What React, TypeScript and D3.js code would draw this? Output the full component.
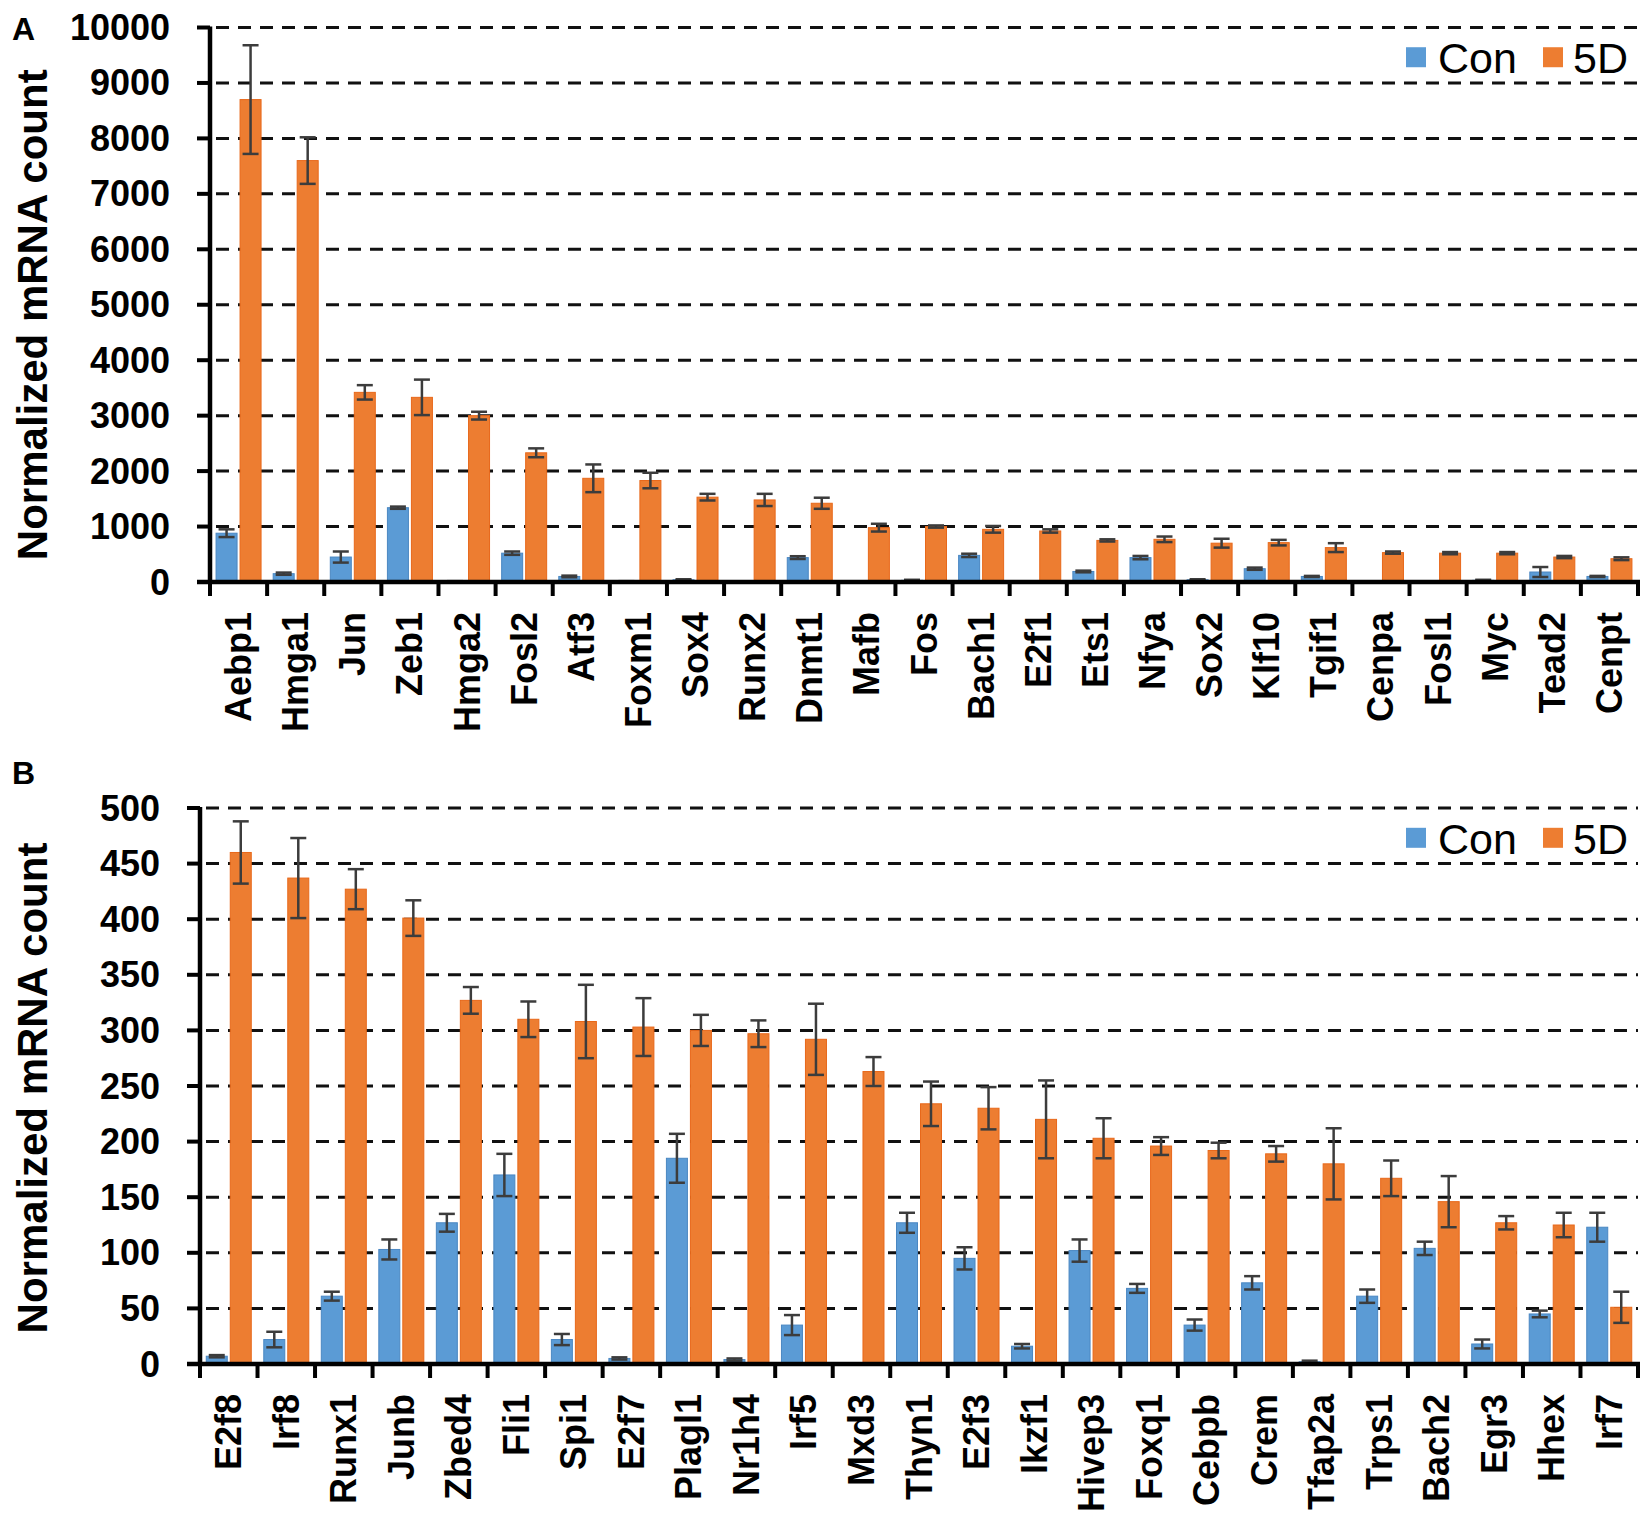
import React, { useEffect } from "react";
import * as d3 from "d3";

const W = 1650;
const H = 1524;

const BLUE = "#5B9BD5";
const BLUE_EDGE = "#4A87C2";
const ORANGE = "#ED7D31";
const ORANGE_EDGE = "#E8681A";
const ERR = "#3c3c3c";
const FONT = "Liberation Sans, Arial, Helvetica, sans-serif";

// Panel A
const genesA = [
  "Aebp1", "Hmga1", "Jun", "Zeb1", "Hmga2", "Fosl2", "Atf3", "Foxm1", "Sox4",
  "Runx2", "Dnmt1", "Mafb", "Fos", "Bach1", "E2f1", "Ets1", "Nfya", "Sox2",
  "Klf10", "Tgif1", "Cenpa", "Fosl1", "Myc", "Tead2", "Cenpt",
];
const conA = [880, 150, 450, 1340, 10, 520, 100, 10, 40, 8, 440, 6, 30, 480, 6, 190, 440, 40, 240, 100, 5, 5, 30, 180, 100];
const conErrA = [70, 20, 100, 20, 5, 30, 15, 5, 10, 4, 25, 3, 10, 30, 3, 15, 30, 10, 20, 10, 3, 3, 10, 90, 10];
const d5A = [8700, 7600, 3420, 3330, 3000, 2330, 1870, 1830, 1530, 1480, 1420, 980, 1000, 950, 920, 750, 770, 700, 710, 620, 530, 520, 520, 450, 420];
const d5ErrA = [980, 420, 130, 320, 70, 80, 250, 140, 60, 110, 100, 70, 20, 60, 30, 20, 50, 80, 50, 80, 20, 20, 20, 20, 25];
const ticksA = [0, 1000, 2000, 3000, 4000, 5000, 6000, 7000, 8000, 9000, 10000];

// Panel B
const genesB = [
  "E2f8", "Irf8", "Runx1", "Junb", "Zbed4", "Fli1", "Spi1", "E2f7", "Plagl1",
  "Nr1h4", "Irf5", "Mxd3", "Thyn1", "E2f3", "Ikzf1", "Hivep3", "Foxq1", "Cebpb",
  "Crem", "Tfap2a", "Trps1", "Bach2", "Egr3", "Hhex", "Irf7",
];
const conB = [7, 22, 61, 103, 127, 170, 22, 5, 185, 4, 35, 0, 127, 95, 16, 102, 68, 35, 73, 2, 61, 104, 18, 45, 123];
const conErrB = [1, 7, 4, 9, 8, 19, 5, 1, 22, 1, 9, 0, 9, 10, 2, 10, 4, 5, 6, 1, 6, 6, 4, 3, 13];
const d5B = [460, 437, 427, 401, 327, 310, 308, 303, 300, 297, 292, 263, 234, 230, 220, 203, 196, 192, 189, 180, 167, 146, 127, 125, 51];
const d5ErrB = [28, 36, 18, 16, 12, 16, 33, 26, 14, 12, 32, 13, 20, 19, 35, 18, 8, 7, 7, 32, 16, 23, 6, 11, 14];
const ticksB = [0, 50, 100, 150, 200, 250, 300, 350, 400, 450, 500];

type PanelProps = {
  letter: string;
  letterY: number;
  genes: string[];
  con: number[];
  conErr: number[];
  d5: number[];
  d5Err: number[];
  ticks: number[];
  x0: number;
  x1: number;
  yTop: number;
  yBottom: number;
  labelY: number;
  titleShift: number;
};

function Panel({ letter, letterY, genes, con, conErr, d5, d5Err, ticks, x0, x1, yTop, yBottom, labelY, titleShift }: PanelProps) {
  const x = d3.scaleBand<string>().domain(genes).range([x0, x1]).paddingInner(0).paddingOuter(0);
  const y = d3.scaleLinear().domain([0, ticks[ticks.length - 1]]).range([yBottom, yTop]);
  const bw = 21;
  const gap = 3;
  const cap = 16;
  const step = x.bandwidth();
  const boundaries = d3.range(genes.length + 1).map((i) => x0 + i * step);

  const errBar = (cx: number, v: number, e: number, key: string) => {
    if (e <= 0) return null;
    const top = y(v + e);
    const bot = y(Math.max(0, v - e));
    return (
      <g key={key} stroke={ERR} strokeWidth={2.5}>
        <line x1={cx} x2={cx} y1={top} y2={bot} />
        <line x1={cx - cap / 2} x2={cx + cap / 2} y1={top} y2={top} />
        <line x1={cx - cap / 2} x2={cx + cap / 2} y1={bot} y2={bot} />
      </g>
    );
  };

  const legendY = (y(ticks[ticks.length - 1]) + y(ticks[ticks.length - 2])) / 2 + 2;

  return (
    <g>
      <text x={12} y={letterY} fontFamily={FONT} fontWeight="bold" fontSize={32}>
        {letter}
      </text>
      <text
        transform={`translate(32,${(yTop + yBottom) / 2 + titleShift}) rotate(-90)`}
        textAnchor="middle"
        dominantBaseline="central"
        fontFamily={FONT}
        fontWeight="bold"
        fontSize={42}
      >
        Normalized mRNA count
      </text>

      {/* gridlines */}
      {ticks.slice(1).map((t) => (
        <line key={"g" + t} x1={x0 + 6} x2={x1} y1={y(t)} y2={y(t)} stroke="#111" strokeWidth={3} strokeDasharray="13,9" />
      ))}

      {/* bars */}
      {genes.map((g, i) => {
        const c = (x(g) as number) + step / 2;
        return (
          <g key={g}>
            {con[i] > 0 && (
              <rect x={c - gap / 2 - bw} y={y(con[i])} width={bw} height={yBottom - y(con[i])} fill={BLUE} stroke={BLUE_EDGE} strokeWidth={1} />
            )}
            <rect x={c + gap / 2} y={y(d5[i])} width={bw} height={yBottom - y(d5[i])} fill={ORANGE} stroke={ORANGE_EDGE} strokeWidth={1} />
            {errBar(c - gap / 2 - bw / 2, con[i], conErr[i], "ec")}
            {errBar(c + gap / 2 + bw / 2, d5[i], d5Err[i], "ed")}
          </g>
        );
      })}

      {/* y axis */}
      <line x1={x0} x2={x0} y1={yTop - 1} y2={yBottom + 2} stroke="#000" strokeWidth={4.5} />
      {ticks.map((t) => (
        <g key={"t" + t}>
          <line x1={x0 - 13} x2={x0} y1={y(t)} y2={y(t)} stroke="#000" strokeWidth={4} />
          <text
            x={x0 - 40}
            y={y(t)}
            textAnchor="end"
            dominantBaseline="central"
            fontFamily={FONT}
            fontWeight="bold"
            fontSize={36}
          >
            {t}
          </text>
        </g>
      ))}

      {/* x axis */}
      <line x1={x0 - 13} x2={x1 + 2} y1={yBottom} y2={yBottom} stroke="#000" strokeWidth={4.5} />
      {boundaries.map((b, i) => (
        <line key={"xb" + i} x1={b} x2={b} y1={yBottom} y2={yBottom + 14} stroke="#000" strokeWidth={4} />
      ))}
      {genes.map((g) => {
        const c = (x(g) as number) + step / 2;
        return (
          <text
            key={"l" + g}
            transform={`translate(${c},${labelY}) rotate(-90)`}
            textAnchor="end"
            dominantBaseline="central"
            fontFamily={FONT}
            fontWeight="bold"
            fontSize={36}
          >
            {g}
          </text>
        );
      })}

      {/* legend */}
      <rect x={1406} y={legendY - 10} width={20} height={20} fill={BLUE} />
      <text x={1438} y={legendY + 1} dominantBaseline="central" fontFamily={FONT} fontSize={43}>
        Con
      </text>
      <rect x={1543} y={legendY - 10} width={20} height={20} fill={ORANGE} />
      <text x={1573} y={legendY + 1} dominantBaseline="central" fontFamily={FONT} fontSize={43}>
        5D
      </text>
    </g>
  );
}

export default function App() {
  useEffect(() => {
    document.body.style.margin = "0";
  }, []);

  return (
    <svg width={W} height={H} style={{ display: "block", background: "#fff" }}>
      <rect width={W} height={H} fill="#fff" />
      <Panel
        letter="A"
        letterY={40}
        genes={genesA}
        con={conA}
        conErr={conErrA}
        d5={d5A}
        d5Err={d5ErrA}
        ticks={ticksA}
        x0={210}
        x1={1638}
        yTop={27.5}
        yBottom={582}
        labelY={612}
        titleShift={10}
      />
      <Panel
        letter="B"
        letterY={784}
        genes={genesB}
        con={conB}
        conErr={conErrB}
        d5={d5B}
        d5Err={d5ErrB}
        ticks={ticksB}
        x0={200}
        x1={1638}
        yTop={808}
        yBottom={1364}
        labelY={1394}
        titleShift={2}
      />
    </svg>
  );
}
